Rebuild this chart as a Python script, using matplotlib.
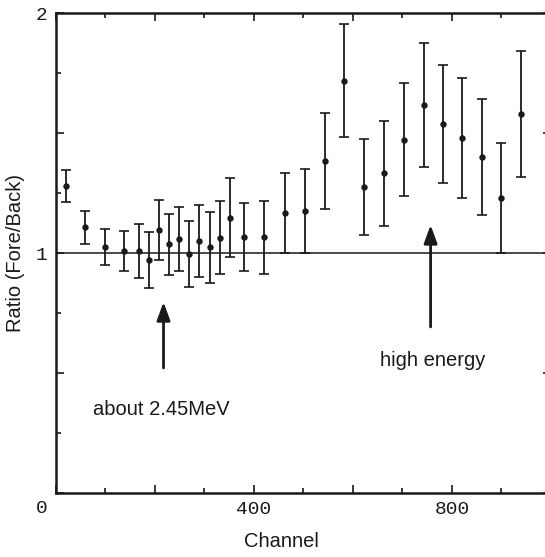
import numpy as np
import matplotlib
matplotlib.use("Agg")
import matplotlib.pyplot as plt

channel = [22, 60, 100, 139, 168, 189, 208, 229, 249, 270, 290, 311, 332, 352,
           380, 420, 464, 503, 543, 583, 622, 662, 703, 743, 782, 821, 861, 900, 939]
ratio = [1.279, 1.107, 1.024, 1.007, 1.008, 0.971, 1.096, 1.036, 1.058, 0.997,
         1.051, 1.024, 1.064, 1.147, 1.067, 1.065, 1.165, 1.175, 1.383, 1.718,
         1.276, 1.332, 1.472, 1.615, 1.538, 1.480, 1.399, 1.228, 1.580]
err = [0.067, 0.068, 0.075, 0.083, 0.112, 0.117, 0.125, 0.126, 0.135, 0.137,
       0.150, 0.148, 0.153, 0.165, 0.143, 0.153, 0.167, 0.175, 0.200, 0.236,
       0.200, 0.220, 0.236, 0.258, 0.247, 0.250, 0.242, 0.230, 0.262]

arrows = [("about 2.45MeV", 218, 0.796, 0.521, 75, 0.346),
          ("high energy", 757, 1.117, 0.692, 654, 0.554)]

ink = "#1a1a1a"
sans = "Liberation Sans"
mono = "Liberation Mono"

fig = plt.figure(figsize=(5.45, 5.57), dpi=100)
ax = fig.add_axes([55.5 / 545, 64 / 557, 495.5 / 545, 480 / 557])

ax.errorbar(channel, ratio, yerr=err, fmt="o", color=ink, ms=3.6,
            elinewidth=1.3, capsize=3.5, capthick=1.2)
ax.axhline(1.0, color=ink, lw=1.1, zorder=0)

for label, x, tip, tail, tx, ty in arrows:
    ax.annotate("", xy=(x, tip), xytext=(x, tail),
                arrowprops=dict(arrowstyle="-|>,head_length=1.1,head_width=0.4",
                                color=ink, lw=2.0, shrinkA=0, shrinkB=0))
    ax.text(tx, ty, label, fontsize=14.5, family=sans, color=ink,
            ha="left", va="center")

ax.set_xlim(0, 1000)
ax.set_ylim(0, 2)

ax.set_xticks([0, 200, 400, 600, 800, 1000])
ax.set_xticklabels(["", "", "400", "", "800", ""])
ax.set_xticks(np.arange(100, 1000, 200), minor=True)
ax.set_yticks([0, 0.5, 1, 1.5, 2])
ax.set_yticklabels(["", "", "1", "", "2"])
ax.set_yticks([0.25, 0.75, 1.25, 1.75], minor=True)

ax.tick_params(which="both", direction="in", top=True, right=True,
               color=ink, width=1.2)
ax.tick_params(which="major", length=6, pad=6, labelsize=14, labelcolor=ink)
ax.tick_params(which="minor", length=3.5)
for t in ax.get_xticklabels() + ax.get_yticklabels():
    t.set_family(mono)

for s in ax.spines.values():
    s.set_linewidth(1.8)
    s.set_color(ink)

ax.text(-0.027, -0.032, "0", transform=ax.transAxes, fontsize=14,
        family=mono, color=ink, ha="center", va="center")

ax.set_xlabel("Channel", fontsize=14.5, family=sans, color=ink)
ax.set_ylabel("Ratio (Fore/Back)", fontsize=14.5, family=sans, color=ink)
ax.xaxis.set_label_coords(0.455, -0.082)
ax.yaxis.set_label_coords(-0.062, 0.5)

fig.savefig("out.png", dpi=100)
